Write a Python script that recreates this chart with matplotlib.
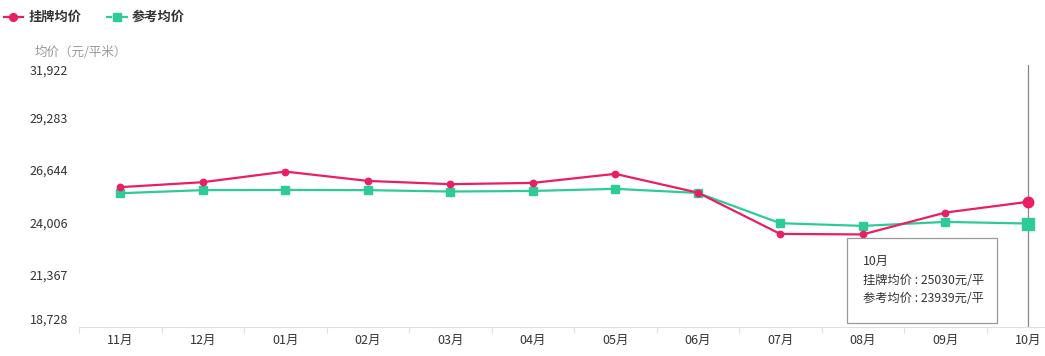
from matplotlib import pyplot as plt
import numpy as np

plt.rcParams['font.family'] = ['Noto Sans CJK SC', 'DejaVu Sans']
plt.rcParams['font.size'] = 9

months = ['11月', '12月', '01月', '02月', '03月', '04月', '05月', '06月', '07月', '08月', '09月', '10月']
listing = [25770, 26020, 26555, 26085, 25920, 25985, 26440, 25495, 23415, 23390, 24490, 25030]
reference = [25465, 25620, 25630, 25620, 25550, 25580, 25685, 25480, 23955, 23820, 24020, 23939]
yticks = [18728, 21367, 24006, 26644, 29283, 31922]

red = '#e91e63'
green = '#2ecc94'

fig = plt.figure(figsize=(10.45, 3.56), dpi=100)
ax = fig.add_axes([79 / 1045, 29 / 356, 990 / 1045, 262 / 356])

x = np.arange(len(months))
ax.plot(x, listing, color=red, lw=1.6, marker='o', ms=4.6, zorder=3)
ax.plot(x, reference, color=green, lw=1.6, marker='s', ms=5.2, zorder=2)
# hovered point
ax.plot(x[-1], listing[-1], 'o', color=red, ms=7.5, zorder=4)
ax.plot(x[-1], reference[-1], 's', color=green, ms=8, zorder=4)
ax.axvline(x[-1], color='#888888', lw=0.9, zorder=1)

ax.set_xlim(-0.5, 11.5)
ax.set_ylim(yticks[0], yticks[-1])
ax.set_xticks(x)
ax.set_xticklabels(months, color='#333333', fontsize=9)
ax.set_xticks(np.arange(-0.5, 12, 1), minor=True)
ax.tick_params(axis='x', which='major', length=0, pad=5)
ax.tick_params(axis='x', which='minor', length=4, color='#e0e0e0', width=0.8)
ax.set_yticks(yticks)
ax.set_yticklabels([f'{v:,}' for v in yticks], color='#333333', fontsize=9)
ax.tick_params(axis='y', length=0, pad=8)
labs = ax.get_yticklabels()
labs[0].set_va('bottom')
labs[-1].set_va('top')

for s in ['top', 'right', 'left']:
    ax.spines[s].set_visible(False)
ax.spines['bottom'].set_color('#e0e0e0')

fig.text(35 / 1045, 1 - 52 / 356, '均价（元/平米）', color='#999999', fontsize=9, va='center')

# legend
ly = 1 - 17 / 356
for (a, b) in [(4, 8), (18, 23)]:
    fig.lines.append(plt.Line2D([a / 1045, b / 1045], [ly, ly], color=red, lw=1.6, transform=fig.transFigure))
fig.lines.append(plt.Line2D([13 / 1045], [ly], color=red, marker='o', ms=5.6, transform=fig.transFigure))
fig.text(29 / 1045, ly, '挂牌均价', fontsize=9.5, fontweight='bold', color='#333333', va='center')
for (a, b) in [(107, 111), (122, 127)]:
    fig.lines.append(plt.Line2D([a / 1045, b / 1045], [ly, ly], color=green, lw=1.6, transform=fig.transFigure))
fig.lines.append(plt.Line2D([116.5 / 1045], [ly], color=green, marker='s', ms=5.4, transform=fig.transFigure))
fig.text(132 / 1045, ly, '参考均价', fontsize=9.5, fontweight='bold', color='#333333', va='center')

# tooltip
box = plt.Rectangle((847 / 1045, 1 - 323 / 356), 150 / 1045, 85 / 356, transform=fig.transFigure,
                    facecolor='white', edgecolor='#999999', lw=0.9, zorder=5)
fig.patches.append(box)
fig.text(863 / 1045, 1 - 261 / 356, '10月', fontsize=8.8, color='#333333', va='center', zorder=6)
fig.text(863 / 1045, 1 - 280 / 356, f'挂牌均价 : {listing[-1]}元/平', fontsize=8.8, color='#333333', va='center', zorder=6)
fig.text(863 / 1045, 1 - 299 / 356, f'参考均价 : {reference[-1]}元/平', fontsize=8.8, color='#333333', va='center', zorder=6)

fig.savefig('out.png', dpi=100)
